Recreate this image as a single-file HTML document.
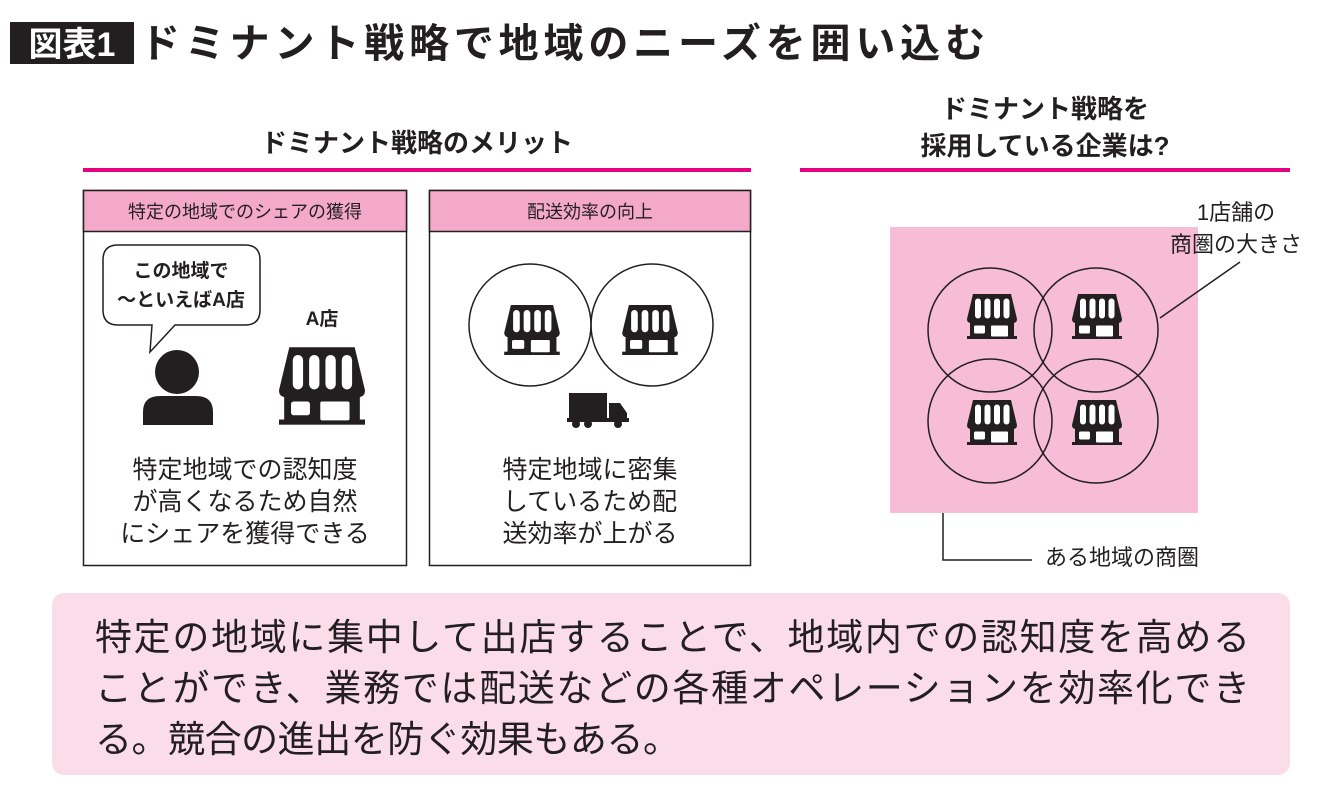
<!DOCTYPE html>
<html><head><meta charset="utf-8"><style>
body{margin:0;background:#fff;}
svg{display:block;font-family:"Liberation Sans","Noto Sans CJK JP",sans-serif;}
</style></head><body>
<svg width="1340" height="796" viewBox="0 0 1340 796" xmlns="http://www.w3.org/2000/svg">
<defs>
<symbol id="st" viewBox="0 0 100 90">
<path d="M12,0H88L100,50Q100,58 92,58H8Q0,58 0,50Z" fill="#231f20"/>
<rect x="16" y="9" width="12" height="40" rx="6" fill="#fff"/>
<rect x="35" y="9" width="12" height="40" rx="6" fill="#fff"/>
<rect x="54" y="9" width="12" height="40" rx="6" fill="#fff"/>
<rect x="73" y="9" width="12" height="40" rx="6" fill="#fff"/>
<rect x="6" y="56" width="88" height="30" fill="#231f20"/>
<rect x="0" y="84" width="100" height="6" fill="#231f20"/>
<rect x="14" y="63" width="22" height="16" rx="3" fill="#fff"/>
<rect x="48" y="63" width="34" height="22" rx="2" fill="#fff"/>
</symbol>
</defs>
<rect x="10" y="22" width="124" height="42" fill="#231f20"/>
<text x="72" y="56" font-size="34" font-weight="bold" fill="#fff" text-anchor="middle">図表1</text>
<text x="140" y="57" font-size="40" font-weight="bold" fill="#231f20" textLength="845" lengthAdjust="spacing">ドミナント戦略で地域のニーズを囲い込む</text>

<text x="417" y="152" font-size="26" font-weight="bold" text-anchor="middle" fill="#231f20">ドミナント戦略のメリット</text>
<rect x="83" y="168" width="668" height="4" fill="#e4007f"/>
<text x="1045" y="118" font-size="26" font-weight="bold" text-anchor="middle" fill="#231f20">ドミナント戦略を</text>
<text x="1045" y="155" font-size="26" font-weight="bold" text-anchor="middle" fill="#231f20">採用している企業は?</text>
<rect x="800" y="168" width="490" height="4" fill="#e4007f"/>

<rect x="83.5" y="190.5" width="323" height="375" fill="#fff" stroke="#231f20" stroke-width="1.5"/>
<rect x="83.5" y="190.5" width="323" height="41" fill="#f4a9cb" stroke="#231f20" stroke-width="1.5"/>
<text x="245" y="218" font-size="18" text-anchor="middle" fill="#231f20">特定の地域でのシェアの獲得</text>
<path d="M118,245H245Q260,245 260,260V310Q260,325 245,325H175L150,352L152,325H118Q103,325 103,310V260Q103,245 118,245Z" fill="#fff" stroke="#231f20" stroke-width="1.5"/>
<text x="181" y="277" font-size="19" font-weight="bold" text-anchor="middle" fill="#231f20">この地域で</text>
<text x="181" y="306" font-size="19" font-weight="bold" text-anchor="middle" fill="#231f20">〜といえばA店</text>
<text x="322" y="325" font-size="19" font-weight="bold" text-anchor="middle" fill="#231f20">A店</text>
<circle cx="177" cy="372" r="22" fill="#231f20"/>
<path d="M143,425V412Q143,396 160,396H196Q213,396 213,412V425Z" fill="#231f20"/>
<use href="#st" x="279" y="347" width="86" height="78"/>
<text x="245" y="478" font-size="25" text-anchor="middle" fill="#231f20">特定地域での認知度</text>
<text x="245" y="510" font-size="25" text-anchor="middle" fill="#231f20">が高くなるため自然</text>
<text x="245" y="542" font-size="25" text-anchor="middle" fill="#231f20">にシェアを獲得できる</text>

<rect x="429.5" y="190.5" width="321" height="375" fill="#fff" stroke="#231f20" stroke-width="1.5"/>
<rect x="429.5" y="190.5" width="321" height="41" fill="#f4a9cb" stroke="#231f20" stroke-width="1.5"/>
<text x="590" y="218" font-size="18" text-anchor="middle" fill="#231f20">配送効率の向上</text>
<circle cx="530" cy="325" r="61" fill="none" stroke="#231f20" stroke-width="1.5"/>
<circle cx="652" cy="325" r="61" fill="none" stroke="#231f20" stroke-width="1.5"/>
<use href="#st" x="504" y="305" width="56" height="50"/>
<use href="#st" x="622" y="305" width="56" height="50"/>
<g fill="#231f20"><rect x="569" y="393" width="38" height="25"/><path d="M609,403H620L627,413V421H609Z"/><rect x="567" y="418" width="62" height="4"/>
<circle cx="576" cy="424" r="4"/><circle cx="588" cy="424" r="4"/><circle cx="618" cy="424" r="4"/></g>
<text x="590" y="478" font-size="25" text-anchor="middle" fill="#231f20">特定地域に密集</text>
<text x="590" y="510" font-size="25" text-anchor="middle" fill="#231f20">しているため配</text>
<text x="590" y="542" font-size="25" text-anchor="middle" fill="#231f20">送効率が上がる</text>

<rect x="890" y="227" width="308" height="286" fill="#f7bcd6"/>
<g fill="none" stroke="#231f20" stroke-width="1.5">
<circle cx="990" cy="330" r="62"/><circle cx="1096" cy="330" r="62"/>
<circle cx="990" cy="421" r="62"/><circle cx="1096" cy="421" r="62"/>
<path d="M1240,262L1160,318"/><path d="M943,513V560H1032"/></g>
<use href="#st" x="967" y="294" width="50" height="45"/>
<use href="#st" x="1072" y="294" width="50" height="45"/>
<use href="#st" x="967" y="400" width="50" height="45"/>
<use href="#st" x="1072" y="400" width="50" height="45"/>
<text x="1236" y="220" font-size="22" text-anchor="middle" fill="#231f20">1店舗の</text>
<text x="1236" y="252" font-size="22" text-anchor="middle" fill="#231f20">商圏の大きさ</text>
<text x="1045" y="565" font-size="22" fill="#231f20">ある地域の商圏</text>

<rect x="52" y="593" width="1238" height="182" rx="12" fill="#fbdde9"/>
<g font-size="37" fill="#231f20">
<text x="95" y="650" textLength="1155" lengthAdjust="spacing">特定の地域に集中して出店することで、地域内での認知度を高める</text>
<text x="95" y="701" textLength="1155" lengthAdjust="spacing">ことができ、業務では配送などの各種オペレーションを効率化でき</text>
<text x="95" y="752" textLength="585" lengthAdjust="spacing">る。競合の進出を防ぐ効果もある。</text></g>
</svg>
</body></html>
